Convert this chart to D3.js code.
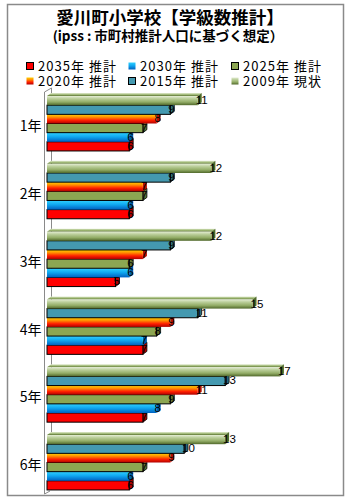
<!DOCTYPE html>
<html><head><meta charset="utf-8">
<script src="https://cdn.jsdelivr.net/npm/d3@7/dist/d3.min.js"></script>
<style>
html,body{margin:0;padding:0;background:#fff;}
svg{display:block;font-family:"Noto Sans CJK JP","Noto Sans",sans-serif;}
</style></head>
<body>
<svg id="c" width="350" height="500"></svg>
<script>
const grades = ["1年","2年","3年","4年","5年","6年"];
const seriesNames = ["2009年 現状","2015年 推計","2020年 推計","2025年 推計","2030年 推計","2035年 推計"];
const v2009 = [11,12,12,15,17,13];
const v2015 = [9,9,9,11,13,10];
const v2020 = [8,7,7,9,11,9];
const v2025 = [7,7,6,8,9,7];
const v2030 = [6,6,6,7,8,6];
const v2035 = [6,6,5,7,7,6];
const seriesValues = [v2009,v2015,v2020,v2025,v2030,v2035];
const legendOrder = ["2035年 推計","2030年 推計","2025年 推計","2020年 推計","2015年 推計","2009年 現状"];

const styles = {
  "2009年 現状": {fill:"url(#g2009)", stroke:"none", cap:"#4f6a2a", legend:"url(#g2009)", lstroke:"none"},
  "2015年 推計": {fill:"#4499b0", stroke:"#000", cap:"#2d6e80", legend:"#4499b0", lstroke:"#000"},
  "2020年 推計": {fill:"url(#g2020)", stroke:"none", cap:"#b81000", legend:"url(#g2020)", lstroke:"none"},
  "2025年 推計": {fill:"#8ca652", stroke:"#000", cap:"#5f7535", legend:"#8ca652", lstroke:"#000"},
  "2030年 推計": {fill:"url(#g2030)", stroke:"none", cap:"#005fa8", legend:"url(#g2030)", lstroke:"none"},
  "2035年 推計": {fill:"#ff0000", stroke:"#000", cap:"#b00000", legend:"#ff0000", lstroke:"#000"}
};

const svg = d3.select("#c");
const defs = svg.append("defs");
function grad(id, stops){
  const g = defs.append("linearGradient").attr("id",id).attr("x1",0).attr("y1",0).attr("x2",0).attr("y2",1);
  stops.forEach(s=>g.append("stop").attr("offset",s[0]).attr("stop-color",s[1]));
}
grad("g2009",[[0,"#e3ecd3"],[0.3,"#b9cd98"],[0.65,"#93ad67"],[1,"#50682a"]]);
grad("g2020",[[0,"#ffd000"],[0.3,"#ff9000"],[0.65,"#ff2000"],[1,"#b00000"]]);
grad("g2030",[[0,"#30d0ff"],[0.45,"#10a8f0"],[1,"#0060c0"]]);

// frame
svg.append("rect").attr("x",7.5).attr("y",4.5).attr("width",336).attr("height",491)
  .attr("fill","none").attr("stroke","#8a8a8a").attr("stroke-width",1.5);

// titles
svg.append("text").attr("x",170).attr("y",24).attr("text-anchor","middle")
  .attr("font-size","17.5px").attr("font-weight","bold").text("愛川町小学校【学級数推計】");
svg.append("text").attr("x",168).attr("y",41).attr("text-anchor","middle")
  .attr("font-size","13.5px").attr("font-weight","bold").text("(ipss : 市町村推計人口に基づく想定）");

// legend
const legX = [26,128,231], legY = [62,77];
legendOrder.forEach((name,i)=>{
  const col=i%3,row=Math.floor(i/3);
  const st=styles[name];
  svg.append("rect").attr("x",legX[col]+0.5).attr("y",legY[row]+0.5).attr("width",7).attr("height",7)
    .attr("fill",st.legend).attr("stroke",st.lstroke).attr("stroke-width",1);
  svg.append("text").attr("x",legX[col]+12).attr("y",legY[row]+9)
    .attr("font-size","13px").attr("textLength",78).attr("lengthAdjust","spacing").text(name);
});

// scales
const x = d3.scaleLinear().domain([0,20]).range([47,321]);
const y = d3.scaleBand().domain(grades).range([89.6,496.4]).paddingInner(0.19).paddingOuter(0.095);
const ys = d3.scaleBand().domain(seriesNames).range([0,y.bandwidth()]).padding(0);

// axis lines (3D walls)
svg.append("path").attr("d","M51.5,88 V490 M44.5,494 V92 L51.5,88 M44.5,494 L50,491")
  .attr("fill","none").attr("stroke","#8a8a8a").attr("stroke-width",1);

const yAxis = d3.axisLeft(y).tickSize(0).tickPadding(3);
const ga = svg.append("g").attr("transform","translate(44.5,0)").call(yAxis);
ga.select(".domain").remove();
ga.selectAll("text").attr("font-size","14px").attr("font-family","\"Noto Sans CJK JP\",sans-serif")
  .attr("fill","#000").attr("dy","0.55em");

// bars
const dx=4, dy=3;
const barsG = svg.append("g");
grades.forEach((g,gi)=>{
  for(let si=seriesNames.length-1; si>=0; si--){
    const name=seriesNames[si], st=styles[name], v=seriesValues[si][gi];
    const y0=y(g)+ys(name), h=ys.bandwidth(), x0=x(0), x1=x(v);
    const bg=barsG.append("g");
    bg.append("path").attr("d",`M${x0},${y0} L${x1},${y0} L${x1+dx},${y0-dy} L${x0+dx},${y0-dy} Z`)
      .attr("fill",st.fill).attr("stroke",st.stroke).attr("stroke-width",0.8);
    bg.append("path").attr("d",`M${x1},${y0} L${x1+dx},${y0-dy} L${x1+dx},${y0+h-dy} L${x1},${y0+h} Z`)
      .attr("fill",st.cap).attr("stroke",st.stroke==="none"?"none":"#000").attr("stroke-width",0.8);
    bg.append("rect").attr("x",x0).attr("y",y0).attr("width",x1-x0).attr("height",h)
      .attr("fill",st.fill).attr("stroke",st.stroke).attr("stroke-width",st.stroke==="none"?0:1);
  }
});
// labels
grades.forEach((g,gi)=>{
  seriesNames.forEach((name,si)=>{
    const v=seriesValues[si][gi];
    svg.append("text").attr("x",x(v)-2).attr("y",y(g)+ys(name)+ys.bandwidth()/2+3.5)
      .attr("font-family","\"Liberation Sans\",Arial,sans-serif")
      .attr("font-size","11.5px").attr("fill","#000").text(v);
  });
});
</script>
</body></html>
